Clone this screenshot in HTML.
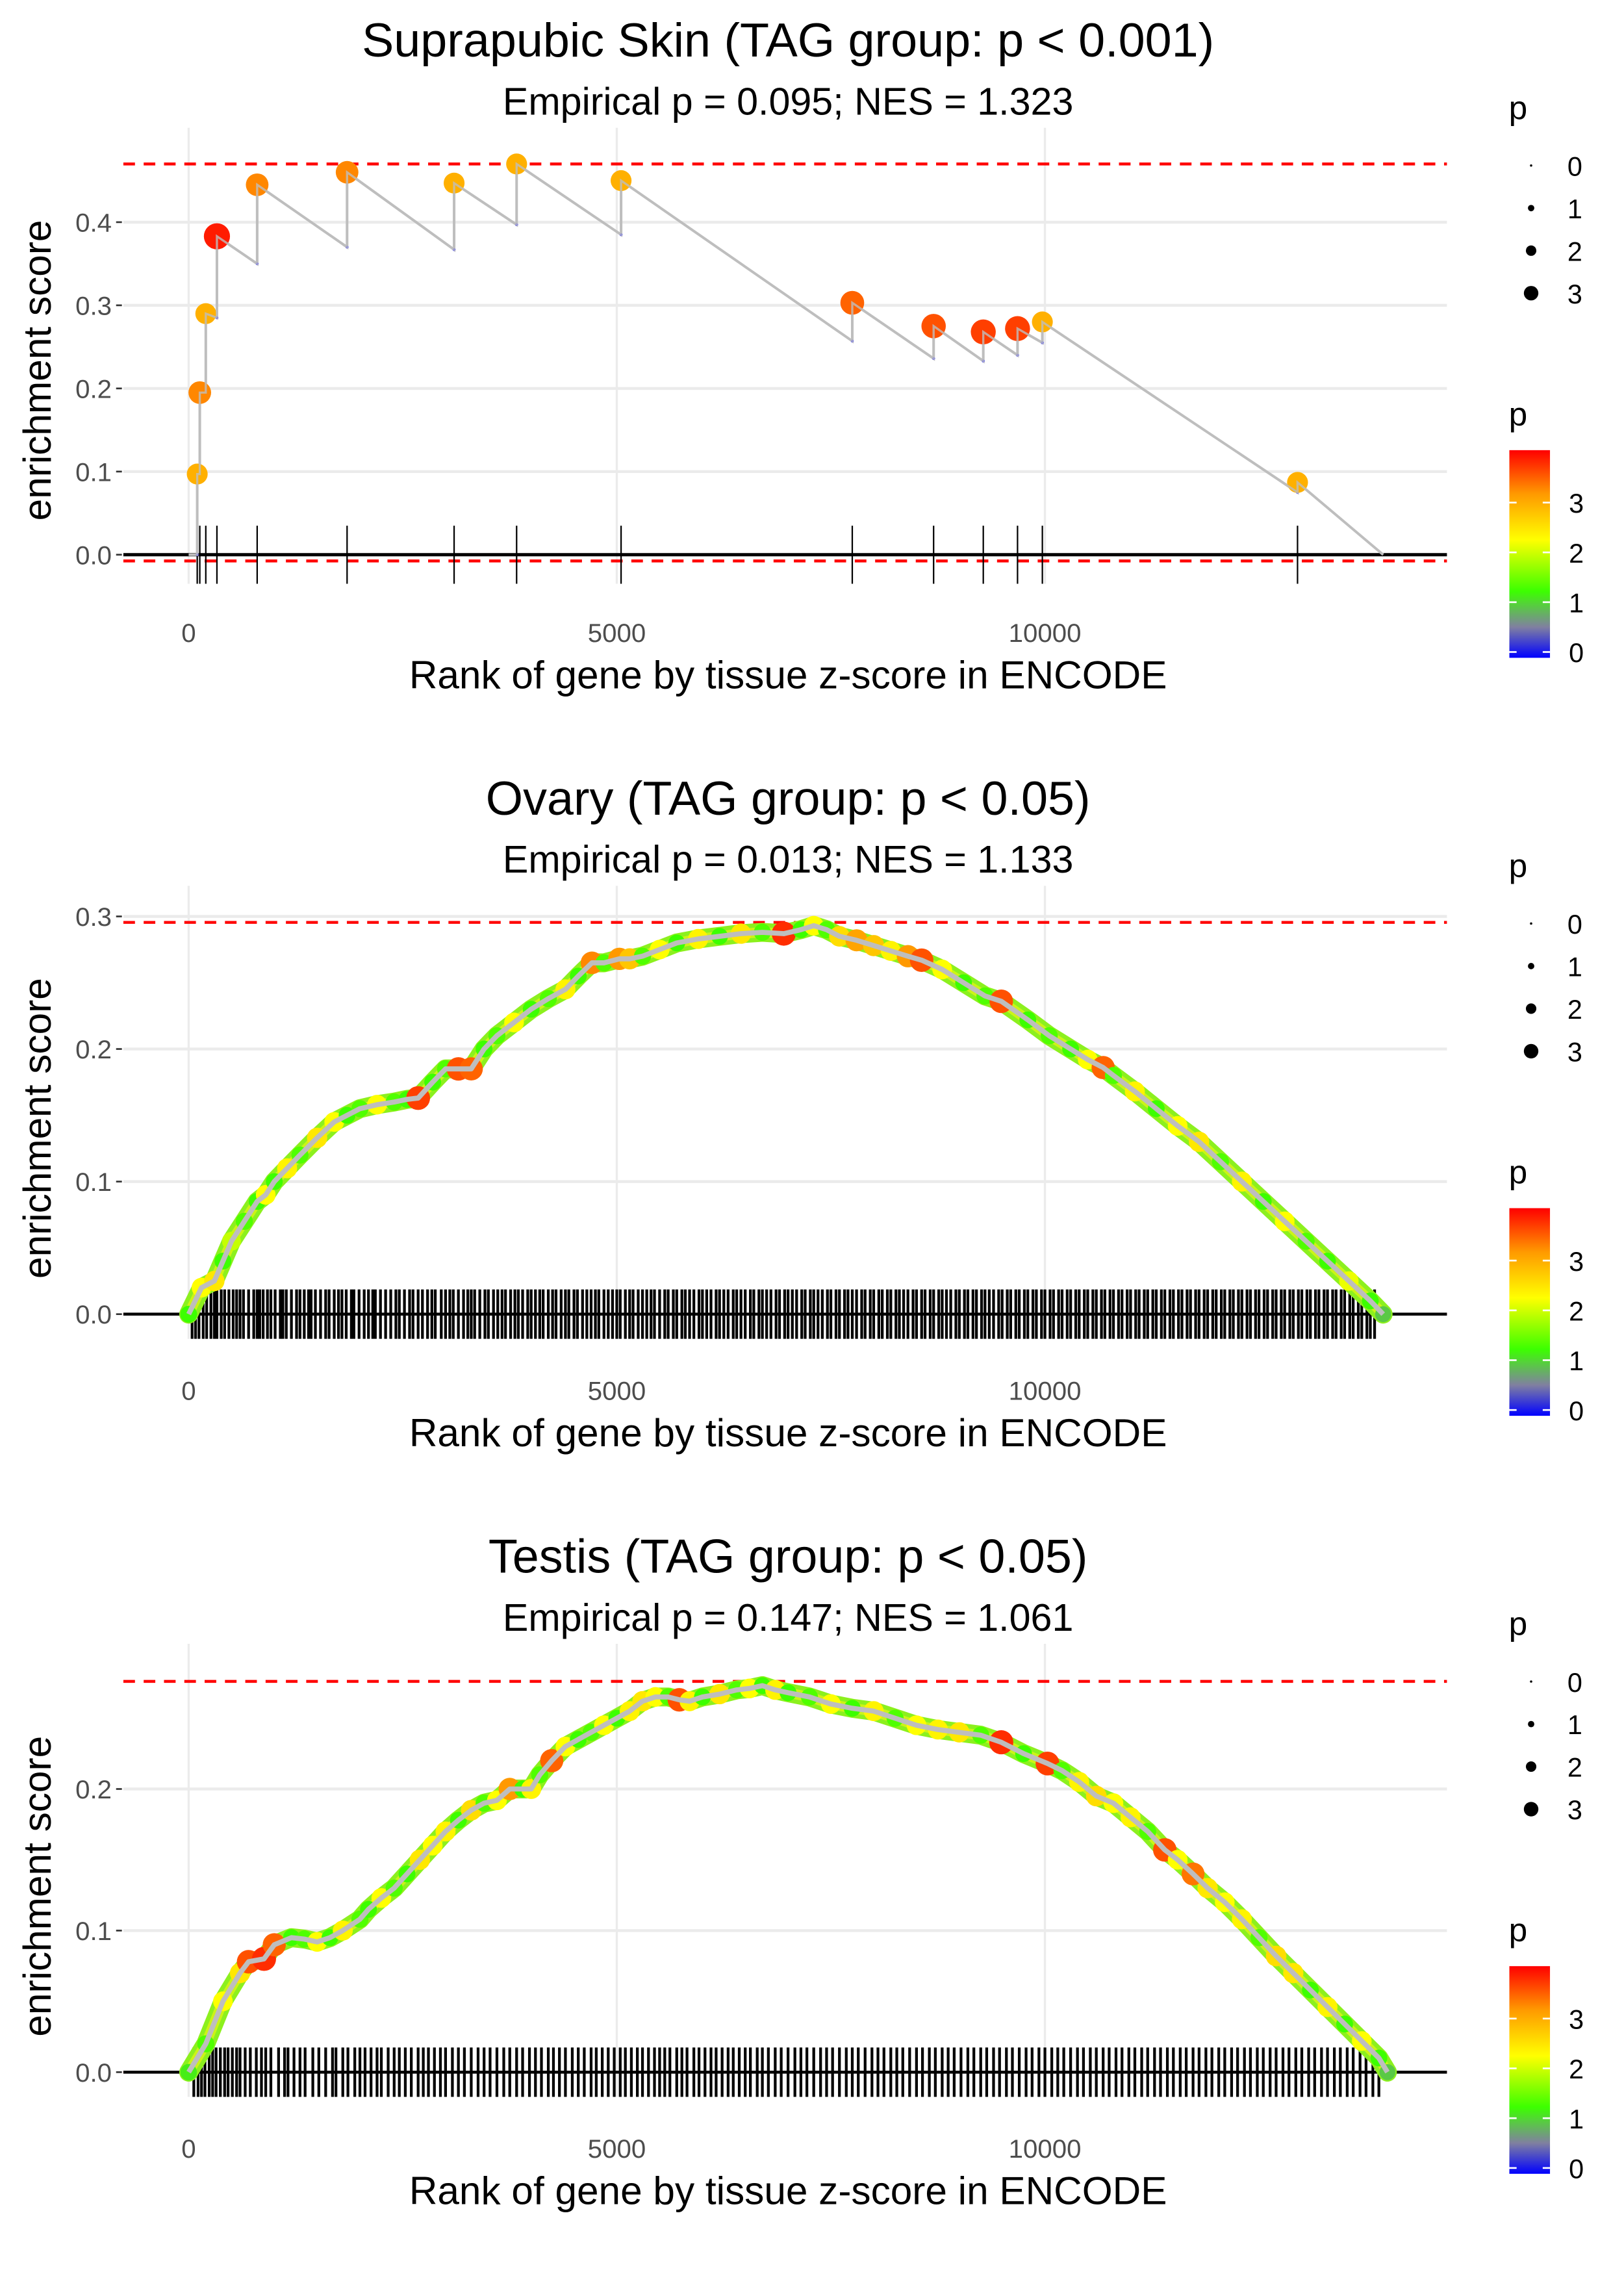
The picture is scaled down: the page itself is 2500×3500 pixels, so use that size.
<!DOCTYPE html>
<html><head><meta charset="utf-8"><style>
html,body{margin:0;padding:0;background:#fff}
svg{display:block;font-family:"Liberation Sans",Arial,sans-serif}
</style></head><body>
<svg id="fig" xmlns="http://www.w3.org/2000/svg" width="2500" height="3500" viewBox="0 0 1119 1566" preserveAspectRatio="none"></svg>
<script>
// ---------- Panel 1 data (Suprapubic Skin) ----------
const p1HitRanks = [100,130,200,330,800,1850,3100,3830,5050,7750,8700,9280,9680,9970,12950];
const p1HitES    = [0.097,0.195,0.29,0.383,0.445,0.46,0.447,0.47,0.45,0.303,0.275,0.268,0.272,0.28,0.087];
const p1HitP     = [3.0,3.3,3.0,3.9,3.3,3.3,3.0,3.0,3.0,3.5,3.6,3.7,3.7,3.0,3.0];
const p1LowES    = [0.0,0.097,0.195,0.285,0.35,0.37,0.367,0.397,0.385,0.257,0.236,0.233,0.24,0.255,0.075];
const p1EndRank = 13950;
const p1Max = 0.47, p1Min = -0.004;
const p1Ticks = [0.0,0.1,0.2,0.3,0.4];
const xTicks = [0,5000,10000];
const xTickLabels = ["0","5000","10000"];

// ---------- Panel 2 data (Ovary) ----------
const p2Ranks = [0,150,300,400,500,650,800,900,1000,1150,1300,1500,1700,1850,2000,2200,2400,2550,2680,2850,3000,3150,3300,3450,3600,3800,4000,4200,4400,4550,4710,4850,5030,5150,5300,5500,5700,5950,6200,6450,6700,6950,7150,7300,7450,7600,7800,8000,8200,8400,8560,8800,9050,9300,9490,9800,10050,10300,10500,10680,10800,11050,11300,11550,11800,12050,12300,12550,12800,13050,13300,13550,13800,13950];
const p2ES = [0,0.02,0.025,0.04,0.055,0.07,0.085,0.09,0.1,0.11,0.12,0.133,0.145,0.15,0.155,0.158,0.16,0.162,0.163,0.175,0.185,0.185,0.185,0.2,0.21,0.22,0.23,0.238,0.245,0.255,0.265,0.265,0.268,0.268,0.27,0.275,0.28,0.283,0.285,0.287,0.288,0.287,0.29,0.293,0.29,0.285,0.282,0.278,0.274,0.27,0.267,0.26,0.25,0.24,0.236,0.222,0.21,0.2,0.192,0.186,0.18,0.168,0.155,0.142,0.13,0.115,0.1,0.085,0.07,0.055,0.04,0.025,0.01,0];
const p2P = [1.3,2.3,2.5,1.3,2.0,1.4,1.3,2.3,1.3,2.4,1.4,2.5,2.3,1.3,1.4,2.3,1.4,1.3,3.7,1.3,1.4,3.6,3.5,1.3,1.4,2.3,1.3,1.4,2.4,1.3,3.3,1.4,3.2,2.8,1.4,2.3,1.3,2.4,1.3,2.5,1.4,3.8,1.3,2.3,1.4,2.6,3.1,2.8,2.4,3.2,3.6,2.3,1.3,1.4,3.6,1.3,1.4,1.3,2.3,3.5,1.4,2.4,1.3,2.3,2.5,1.4,2.4,1.3,2.3,1.4,1.3,2.2,1.3,1.0];
const p2Rug = [40,80,120,170,210,260,300,330,380,420,470,520,560,600,640,700,760,800,830,870,920,960,1010,1070,1100,1140,1200,1260,1300,1350,1400,1430,1480,1540,1600,1640,1700,1750,1790,1840,1900,1930,1990,2050,2100,2150,2180,2240,2300,2360,2420,2460,2520,2580,2620,2680,2730,2790,2840,2880,2950,3000,3050,3090,3150,3210,3260,3300,3340,3400,3460,3500,3560,3610,3660,3700,3760,3810,3850,3900,3960,4000,4050,4100,4140,4200,4250,4290,4350,4400,4440,4500,4540,4600,4650,4700,4750,4790,4850,4900,4950,5000,5040,5100,5150,5190,5250,5300,5350,5400,5440,5500,5560,5600,5660,5700,5760,5800,5850,5900,5960,6000,6050,6100,6160,6200,6250,6300,6360,6400,6450,6500,6560,6600,6660,6700,6750,6800,6860,6900,6960,7000,7050,7100,7160,7200,7260,7300,7350,7400,7460,7500,7560,7600,7660,7700,7750,7800,7860,7900,7960,8000,8060,8100,8160,8200,8260,8300,8350,8400,8460,8500,8560,8600,8660,8700,8760,8800,8850,8900,8960,9000,9060,9100,9160,9200,9260,9300,9350,9400,9460,9500,9560,9600,9660,9700,9760,9800,9860,9900,9960,10000,10060,10100,10160,10200,10260,10300,10360,10400,10460,10500,10560,10600,10660,10700,10760,10800,10860,10900,10960,11000,11060,11100,11160,11200,11260,11300,11360,11400,11460,11500,11560,11600,11660,11700,11760,11800,11860,11900,11960,12000,12060,12100,12160,12200,12260,12300,12360,12400,12460,12500,12560,12600,12660,12700,12760,12800,12860,12900,12960,13000,13060,13100,13160,13200,13260,13300,13360,13400,13460,13500,13560,13600,13660,13700,13760,13800,13850];
const p2Max = 0.2955;
const p2Ticks = [0.0,0.1,0.2,0.3];

// ---------- Panel 3 data (Testis) ----------
const p3Ranks = [0,200,400,600,700,880,1000,1200,1350,1500,1650,1800,2000,2100,2250,2400,2550,2700,2850,3000,3150,3300,3450,3600,3750,3900,4000,4100,4240,4400,4550,4700,4850,5000,5150,5300,5450,5600,5730,5850,6000,6200,6400,6550,6700,6850,7000,7250,7500,7750,8000,8250,8500,8750,9000,9250,9490,9750,10030,10200,10400,10600,10800,11000,11200,11400,11550,11730,11900,12100,12300,12500,12700,12900,13100,13300,13500,13700,13900,14000];
const p3ES = [0,0.02,0.05,0.07,0.078,0.08,0.09,0.095,0.094,0.092,0.095,0.1,0.108,0.115,0.123,0.13,0.14,0.15,0.16,0.17,0.178,0.185,0.19,0.192,0.2,0.2,0.2,0.21,0.22,0.23,0.235,0.24,0.245,0.25,0.255,0.262,0.265,0.265,0.263,0.262,0.265,0.267,0.27,0.271,0.273,0.27,0.268,0.265,0.26,0.257,0.255,0.25,0.245,0.242,0.24,0.238,0.233,0.225,0.218,0.213,0.205,0.195,0.19,0.18,0.17,0.157,0.15,0.14,0.13,0.12,0.108,0.095,0.082,0.07,0.058,0.046,0.034,0.022,0.01,0];
const p3P = [1.2,1.4,2.3,2.5,3.6,3.8,3.5,1.3,1.4,2.3,1.3,2.4,1.4,1.3,2.3,1.4,1.3,2.5,2.3,2.4,1.3,2.6,1.4,2.3,3.2,1.3,2.4,1.4,3.5,2.3,1.3,1.4,2.3,1.3,2.4,2.5,2.3,1.4,3.6,2.4,1.3,2.5,1.4,2.3,1.3,2.4,1.3,1.4,2.3,1.3,2.4,1.4,2.3,2.4,2.5,1.4,3.8,1.3,3.7,1.4,2.4,2.6,2.3,2.4,1.4,3.6,2.3,3.4,2.5,2.3,2.4,1.4,2.6,2.5,1.3,2.4,1.3,2.3,1.3,1.0];
const p3Rug = [60,110,150,190,240,280,320,370,420,460,510,560,600,660,720,790,850,900,960,1050,1120,1160,1230,1300,1360,1450,1520,1600,1680,1720,1800,1860,1940,2000,2060,2130,2200,2250,2330,2400,2460,2530,2600,2680,2740,2800,2870,2940,3000,3080,3150,3220,3300,3380,3450,3520,3600,3680,3750,3830,3900,3980,4050,4120,4200,4260,4330,4400,4480,4550,4620,4700,4760,4830,4900,4970,5040,5100,5170,5240,5300,5370,5440,5500,5560,5620,5700,5760,5820,5900,5960,6030,6100,6160,6230,6300,6360,6430,6500,6560,6640,6700,6770,6850,6920,7000,7080,7150,7220,7300,7380,7450,7520,7600,7680,7750,7820,7900,7980,8050,8120,8200,8270,8340,8420,8500,8570,8650,8720,8800,8870,8940,9020,9100,9170,9250,9320,9400,9470,9550,9620,9700,9780,9850,9930,10000,10080,10150,10220,10300,10380,10450,10530,10600,10680,10750,10830,10900,10980,11050,11130,11200,11280,11350,11430,11500,11580,11650,11730,11800,11880,11950,12030,12100,12180,12250,12330,12400,12480,12550,12630,12700,12780,12850,12930,13000,13080,13150,13230,13300,13380,13450,13530,13600,13680,13750,13830,13900];
const p3Max = 0.276;
const p3Ticks = [0.0,0.1,0.2];

const legendSizes = [0,1,2,3];
const colorbarTicks = [0,1,2,3];
const titles = ["Suprapubic Skin (TAG group: p < 0.001)","Ovary (TAG group: p < 0.05)","Testis (TAG group: p < 0.05)"];
const subtitles = ["Empirical p = 0.095; NES = 1.323","Empirical p = 0.013; NES = 1.133","Empirical p = 0.147; NES = 1.061"];

// ---------- helpers ----------
const NS = "http://www.w3.org/2000/svg";
const svg = document.getElementById('fig');
function mk(tag, attrs, parent){
  const e = document.createElementNS(NS, tag);
  for (const k in attrs) e.setAttribute(k, attrs[k]);
  (parent||svg).appendChild(e);
  return e;
}
function txt(s, x, y, size, fill, anchor, parent){
  const t = mk('text',{x:x,y:y,'font-size':size,fill:fill,'text-anchor':anchor||'middle'},parent);
  t.textContent = s; return t;
}
const stops = [[0,[0,0,255]],[0.6,[128,128,160]],[1.3,[60,255,0]],[2.3,[255,255,0]],[3.2,[255,153,0]],[4.05,[255,0,0]]];
function pColor(p){
  if (p<=stops[0][0]) return 'rgb(0,0,255)';
  for (let i=1;i<stops.length;i++){
    if (p<=stops[i][0]){
      const a=stops[i-1], b=stops[i], t=(p-a[0])/(b[0]-a[0]);
      const c=a[1].map((v,j)=>Math.round(v+(b[1][j]-v)*t));
      return `rgb(${c[0]},${c[1]},${c[2]})`;
    }
  }
  return 'rgb(255,0,0)';
}
function pRadius(p){ return 1+1.75*p; }
function pRadiusDense(p){ return 4.5+1.0*p; }
function pRadiusHit(p){ return 1.2+2.0*p; }

function xScale(r){ return 130 + r*0.059; }

function drawFrame(i, yScale, yTicks, panelTop, panelBot, maxLine, minLine){
  const off = i*522;
  const g = mk('g',{});
  
  
  const t = txt(titles[i], 543, 39+off, 33, '#000', 'middle', g);
  
  
  const st = txt(subtitles[i], 543, 79+off, 26.5, '#000', 'middle', g);
  
  
  yTicks.forEach(v=>{
    const y=yScale(v);
    const l = mk('line',{x1:85,x2:997,y1:y,y2:y,stroke:'#ebebeb','stroke-width':2},g);
    
    
    const lb = txt(v.toFixed(1), 77, y+6.5, 18, '#4d4d4d', 'end', g);
    
    
    const tk = mk('line',{x1:80,x2:84,y1:y,y2:y,stroke:'#333','stroke-width':1.2},g);
    
    
  });
  xTicks.forEach((v,k)=>{
    const x=xScale(v);
    const l = mk('line',{x1:x,x2:x,y1:panelTop,y2:panelBot,stroke:'#ebebeb','stroke-width':1.5},g);
    
    
    const lb = txt(xTickLabels[k], x, 442+off, 18, '#4d4d4d', 'middle', g);
    
    
  });
  const xt = txt("Rank of gene by tissue z-score in ENCODE", 543, 474+off, 27, '#000', 'middle', g);
  
  
  const yt = txt("enrichment score", 0, 0, 27, '#000', 'middle', g);
  yt.setAttribute('transform', `translate(35,${255+off}) rotate(-90)`);
  
  
  const dm = mk('line',{x1:85,x2:997,y1:yScale(maxLine),y2:yScale(maxLine),stroke:'#ff0000','stroke-width':2,'stroke-dasharray':'8,6'},g);
  
  
  if (minLine!==null){
    const dn = mk('line',{x1:85,x2:997,y1:yScale(minLine)+2,y2:yScale(minLine)+2,stroke:'#ff0000','stroke-width':2,'stroke-dasharray':'8,6'},g);
    
    
  } else {
    const dn = mk('line',{x1:85,x2:997,y1:yScale(0),y2:yScale(0),stroke:'#ff0000','stroke-width':1.5,'stroke-dasharray':'8,6'},g);
    
    
  }
  const lg = mk('g',{},g);
  
  
  txt('p', 1046, 82+off, 23, '#000', 'middle', lg);
  legendSizes.forEach((s,k)=>{
    const y = 114+off+k*29.3;
    const c = mk('circle',{cx:1055,cy:y,r:pRadius(s)*0.8,fill:'#000'},lg);
    
    
    txt(String(s), 1080, y+7, 18.5, '#000', 'start', lg);
  });
  const cg = mk('g',{},g);
  
  
  txt('p', 1046, 293+off, 23, '#000', 'middle', cg);
  const gid = 'cbar'+i;
  const defs = mk('defs',{},cg);
  const lgd = mk('linearGradient',{id:gid,x1:0,y1:1,x2:0,y2:0},defs);
  stops.forEach(s=>{
    mk('stop',{offset:(s[0]/4.05),'stop-color':pColor(s[0])},lgd);
  });
  const cbTop = 310+off, cbBot = 453+off;
  const bar = mk('rect',{x:1040,y:cbTop,width:28,height:cbBot-cbTop,fill:`url(#${gid})`},cg);
  
  
  colorbarTicks.forEach(v=>{
    const y = cbBot-4 - v*34.3;
    mk('line',{x1:1040,x2:1045,y1:y,y2:y,stroke:'#fff','stroke-width':1.2},cg);
    mk('line',{x1:1063,x2:1068,y1:y,y2:y,stroke:'#fff','stroke-width':1.2},cg);
    txt(String(v), 1081, y+7, 18.5, '#000', 'start', cg);
  });
  return g;
}

// ---------- Panel 1 ----------
(function(){
  const y0=382, k=572.5;
  const ys = v=> y0 - v*k;
  const g = drawFrame(0, ys, p1Ticks, 88, 402, p1Max, p1Min);
  p1HitRanks.forEach(r=>{
    const l = mk('line',{x1:xScale(r),x2:xScale(r),y1:362,y2:402,stroke:'#000','stroke-width':1},g);
    
    
  });
  const zl = mk('line',{x1:85,x2:997,y1:ys(0),y2:ys(0),stroke:'#000','stroke-width':2.2},g);
  
  
  let d = `M${xScale(0)},${ys(0)}`;
  p1HitRanks.forEach((r,i)=>{
    d += ` L${xScale(r)},${ys(p1LowES[i])} L${xScale(r)},${ys(p1HitES[i])}`;
  });
  d += ` L${xScale(p1EndRank)},${ys(0)}`;
  const path = mk('path',{d:d,fill:'none',stroke:'#bebebe','stroke-width':1.8},g);
  
  
  p1HitRanks.forEach((r,i)=>{
    const lo = mk('circle',{cx:xScale(r),cy:ys(p1LowES[i]),r:1,fill:'#3030ff'},g);
    
    
  });
  p1HitRanks.forEach((r,i)=>{
    const c = mk('circle',{cx:xScale(r),cy:ys(p1HitES[i]),r:pRadiusHit(p1HitP[i]),fill:pColor(p1HitP[i])},g);
    
    
  });
  mk('path',{d:d,fill:'none',stroke:'#bebebe','stroke-width':1.5,opacity:0.8},g);
})();

function drawDense(i, ranks, es, ps, rug, ymax, y0, k, ticks){
  const off=i*522;
  const ys = v=> y0 - v*k;
  const g = drawFrame(i, ys, ticks, 88+off, 922+off-522, ymax, null);
  rug.forEach(r=>{
    const l = mk('line',{x1:xScale(r),x2:xScale(r),y1:y0-17,y2:y0+17,stroke:'#000','stroke-width':1.9},g);
    
    
  });
  const zl = mk('line',{x1:85,x2:997,y1:y0,y2:y0,stroke:'#000','stroke-width':2},g);
  
  
  const pts = ranks.map((r,j)=>`${xScale(r)},${ys(es[j])}`).join(' ');
  const band = mk('polyline',{points:pts,fill:'none',stroke:'#8cf01e','stroke-width':13,'stroke-linejoin':'round','stroke-linecap':'round'},g);
  
  
  const band2 = mk('polyline',{points:pts,fill:'none',stroke:'#e6f514','stroke-width':7,'stroke-linejoin':'round',opacity:0.7},g);
  
  
  ranks.forEach((r,j)=>{
    const c = mk('circle',{cx:xScale(r),cy:ys(es[j]),r:pRadiusDense(ps[j]),fill:pColor(ps[j])},g);
    
    
  });
  const line = mk('polyline',{points:pts,fill:'none',stroke:'#bebebe','stroke-width':3.5,'stroke-linejoin':'round'},g);
  
  
}
drawDense(1, p2Ranks, p2ES, p2P, p2Rug, p2Max, 905, 913, p2Ticks);
drawDense(2, p3Ranks, p3ES, p3P, p3Rug, p3Max, 1427, 975, p3Ticks);
</script>
</body></html>
